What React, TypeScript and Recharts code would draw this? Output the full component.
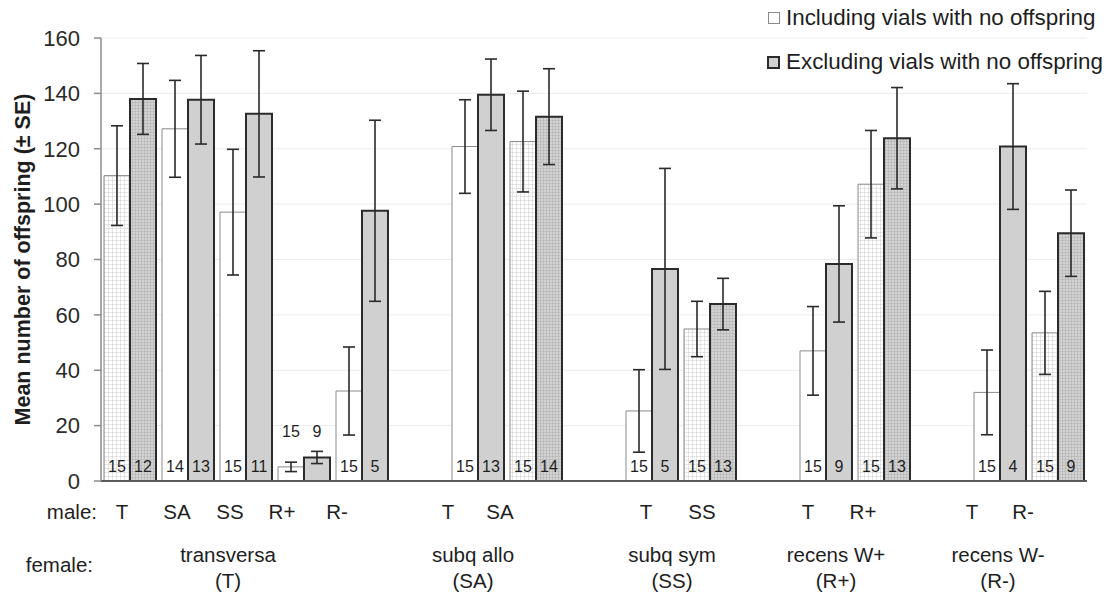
import { BarChart, Bar, XAxis, YAxis, CartesianGrid, Cell, ErrorBar, LabelList } from "recharts";

// one slot per male x female cross, empty slots separate the female groups
const maleLabels = ["T", "SA", "SS", "R+", "R-", "", "T", "SA", "", "T", "SS", "", "T", "R+", "", "T", "R-"];
const femaleOfSlot = ["T", "T", "T", "T", "T", "", "SA", "SA", "", "SS", "SS", "", "R+", "R+", "", "R-", "R-"];
const femaleNames = ["transversa", "subq allo", "subq sym", "recens W+", "recens W-"];
const femaleCodes = ["T", "SA", "SS", "R+", "R-"];

const inclMean = [110.3, 127.2, 97.1, 5.1, 32.5, null, 120.8, 122.6, null, 25.3, 54.9, null, 47.0, 107.2, null, 32.0, 53.5];
const inclSE = [18.0, 17.5, 22.7, 1.7, 15.9, null, 16.9, 18.2, null, 14.9, 10.0, null, 16.0, 19.4, null, 15.3, 15.0];
const exclMean = [138.0, 137.7, 132.6, 8.5, 97.6, null, 139.5, 131.6, null, 76.6, 63.9, null, 78.4, 123.8, null, 120.8, 89.5];
const exclSE = [12.8, 16.0, 22.8, 2.2, 32.7, null, 12.9, 17.3, null, 36.3, 9.3, null, 21.0, 18.3, null, 22.7, 15.6];
const inclN = [15, 14, 15, 15, 15, null, 15, 15, null, 15, 15, null, 15, 15, null, 15, 15];
const exclN = [12, 13, 11, 9, 5, null, 13, 14, null, 5, 13, null, 9, 13, null, 4, 9];

const yTicks = [0, 20, 40, 60, 80, 100, 120, 140, 160];

const data = maleLabels.map((male, i) => ({
  slot: i,
  male,
  female: femaleOfSlot[i],
  incl: inclMean[i],
  inclErr: inclSE[i],
  excl: exclMean[i],
  exclErr: exclSE[i],
  inclN: inclN[i],
  exclN: exclN[i],
}));

const FONT = "'Liberation Sans', Arial, sans-serif";
const W = 1107;
const H = 596;
const MARGIN = { top: 38, right: 20, bottom: 0, left: 0 };
const Y_WIDTH = 101;
const SLOT = (W - MARGIN.left - MARGIN.right - Y_WIDTH) / maleLabels.length;

// hand-placed label shifts of the original figure (px)
const maleNudge = [-8, -11, -16, -22, -25, 0, -30, -36, 0, -6, -8, 0, -18, -21, 0, -28, -35];
const femaleNudge = [-18, -34, -9, -19, -31];

function XTick(props: any) {
  const { x, y, payload } = props;
  const i = Number(payload.value);
  const label = maleLabels[i];
  const g = femaleCodes.findIndex((c) => femaleOfSlot.indexOf(c) === i);
  const txt = { fontFamily: FONT, fontSize: 20.5, fill: "#1e1e1e" };
  let femaleEl = null;
  if (g >= 0) {
    const count = femaleOfSlot.filter((c) => c === femaleCodes[g]).length;
    const cx = x + ((count - 1) / 2) * SLOT + femaleNudge[g];
    femaleEl = (
      <g>
        <text x={cx} y={y + 81} textAnchor="middle" {...txt}>{femaleNames[g]}</text>
        <text x={cx} y={y + 107} textAnchor="middle" {...txt}>({femaleCodes[g]})</text>
      </g>
    );
  }
  return (
    <g>
      {label ? (
        <text x={x + maleNudge[i]} y={y + 38} textAnchor="middle" {...txt}>{label}</text>
      ) : null}
      {i === 0 ? (
        <g>
          <text x={x - 33} y={y + 38} textAnchor="end" {...txt}>male:</text>
          <text x={x - 37} y={y + 91} textAnchor="end" {...txt}>female:</text>
        </g>
      ) : null}
      {femaleEl}
    </g>
  );
}

function NLabel(props: any) {
  const { x, y, width, height, value } = props;
  if (value == null) return null;
  const bottom = y + height;
  const ty = height < 40 ? bottom - 44 : bottom - 9.5;
  return (
    <text x={x + width / 2} y={ty} textAnchor="middle" fontFamily={FONT} fontSize={16} fill="#1e1e1e">
      {value}
    </text>
  );
}

function LegendBox() {
  const row = {
    position: "absolute" as const,
    left: 767,
    height: 26,
    display: "flex",
    alignItems: "center",
    fontFamily: FONT,
    fontSize: 22.4,
    color: "#1e1e1e",
    whiteSpace: "nowrap" as const,
    background: "#fff",
  };
  return (
    <>
      <div style={{ ...row, top: 5 }}>
        <span style={{ width: 10, height: 10, border: "1px solid #8a8a8a", background: "#fff", marginRight: 6, marginLeft: 1 }} />
        Including vials with no offspring
      </div>
      <div style={{ ...row, top: 49 }}>
        <span style={{ width: 9, height: 9, border: "2px solid #2b2b2b", background: "#d0d0d0", marginRight: 6 }} />
        Excluding vials with no offspring
      </div>
    </>
  );
}

export default function App() {
  return (
    <div style={{ position: "absolute", left: 0, top: 0, width: W, height: H, background: "#fff" }}>
      <BarChart width={W} height={H} data={data} margin={MARGIN} barCategoryGap={3} barGap={0}>
        <defs>
          <pattern id="gridLight" width="4" height="4" patternUnits="userSpaceOnUse">
            <rect width="4" height="4" fill="#ffffff" />
            <path d="M4 0 L0 0 0 4" fill="none" stroke="#c2c2c2" strokeWidth="0.8" />
          </pattern>
          <pattern id="gridDark" width="3" height="3" patternUnits="userSpaceOnUse">
            <rect width="3" height="3" fill="#d2d2d2" />
            <path d="M3 0 L0 0 0 3" fill="none" stroke="#a0a0a0" strokeWidth="0.7" />
          </pattern>
        </defs>
        <CartesianGrid vertical={false} stroke="#ececec" />
        <XAxis
          dataKey="slot"
          height={115}
          interval={0}
          tickLine={false}
          tickSize={0}
          tickMargin={0}
          axisLine={{ stroke: "#5a5a5a", strokeWidth: 2 }}
          tick={<XTick />}
        />
        <YAxis
          width={Y_WIDTH}
          domain={[0, 160]}
          ticks={yTicks}
          interval={0}
          tickSize={7}
          tickMargin={14}
          axisLine={{ stroke: "#8c8c8c", strokeWidth: 1.5 }}
          tickLine={{ stroke: "#8c8c8c", strokeWidth: 1.5 }}
          tick={{ fontSize: 22, fill: "#2a2a2a", fontFamily: FONT }}
          label={{
            value: "Mean number of offspring (± SE)",
            angle: -90,
            position: "insideLeft",
            offset: 22,
            style: { textAnchor: "middle", fontWeight: "bold", fontSize: 21.5, fill: "#1e1e1e", fontFamily: FONT },
          }}
        />
        <Bar dataKey="incl" isAnimationActive={false} stroke="#8a8a8a" strokeWidth={1}>
          {data.map((d) => (
            <Cell key={`i${d.slot}`} fill={d.male === d.female ? "url(#gridLight)" : "#ffffff"} />
          ))}
          <ErrorBar dataKey="inclErr" width={6} stroke="#2a2a2a" strokeWidth={1.6} direction="y" />
          <LabelList dataKey="inclN" content={<NLabel />} />
        </Bar>
        <Bar dataKey="excl" isAnimationActive={false} stroke="#2b2b2b" strokeWidth={2}>
          {data.map((d) => (
            <Cell key={`e${d.slot}`} fill={d.male === d.female ? "url(#gridDark)" : "#d0d0d0"} />
          ))}
          <ErrorBar dataKey="exclErr" width={6} stroke="#2a2a2a" strokeWidth={1.6} direction="y" />
          <LabelList dataKey="exclN" content={<NLabel />} />
        </Bar>
      </BarChart>
      <LegendBox />
    </div>
  );
}
